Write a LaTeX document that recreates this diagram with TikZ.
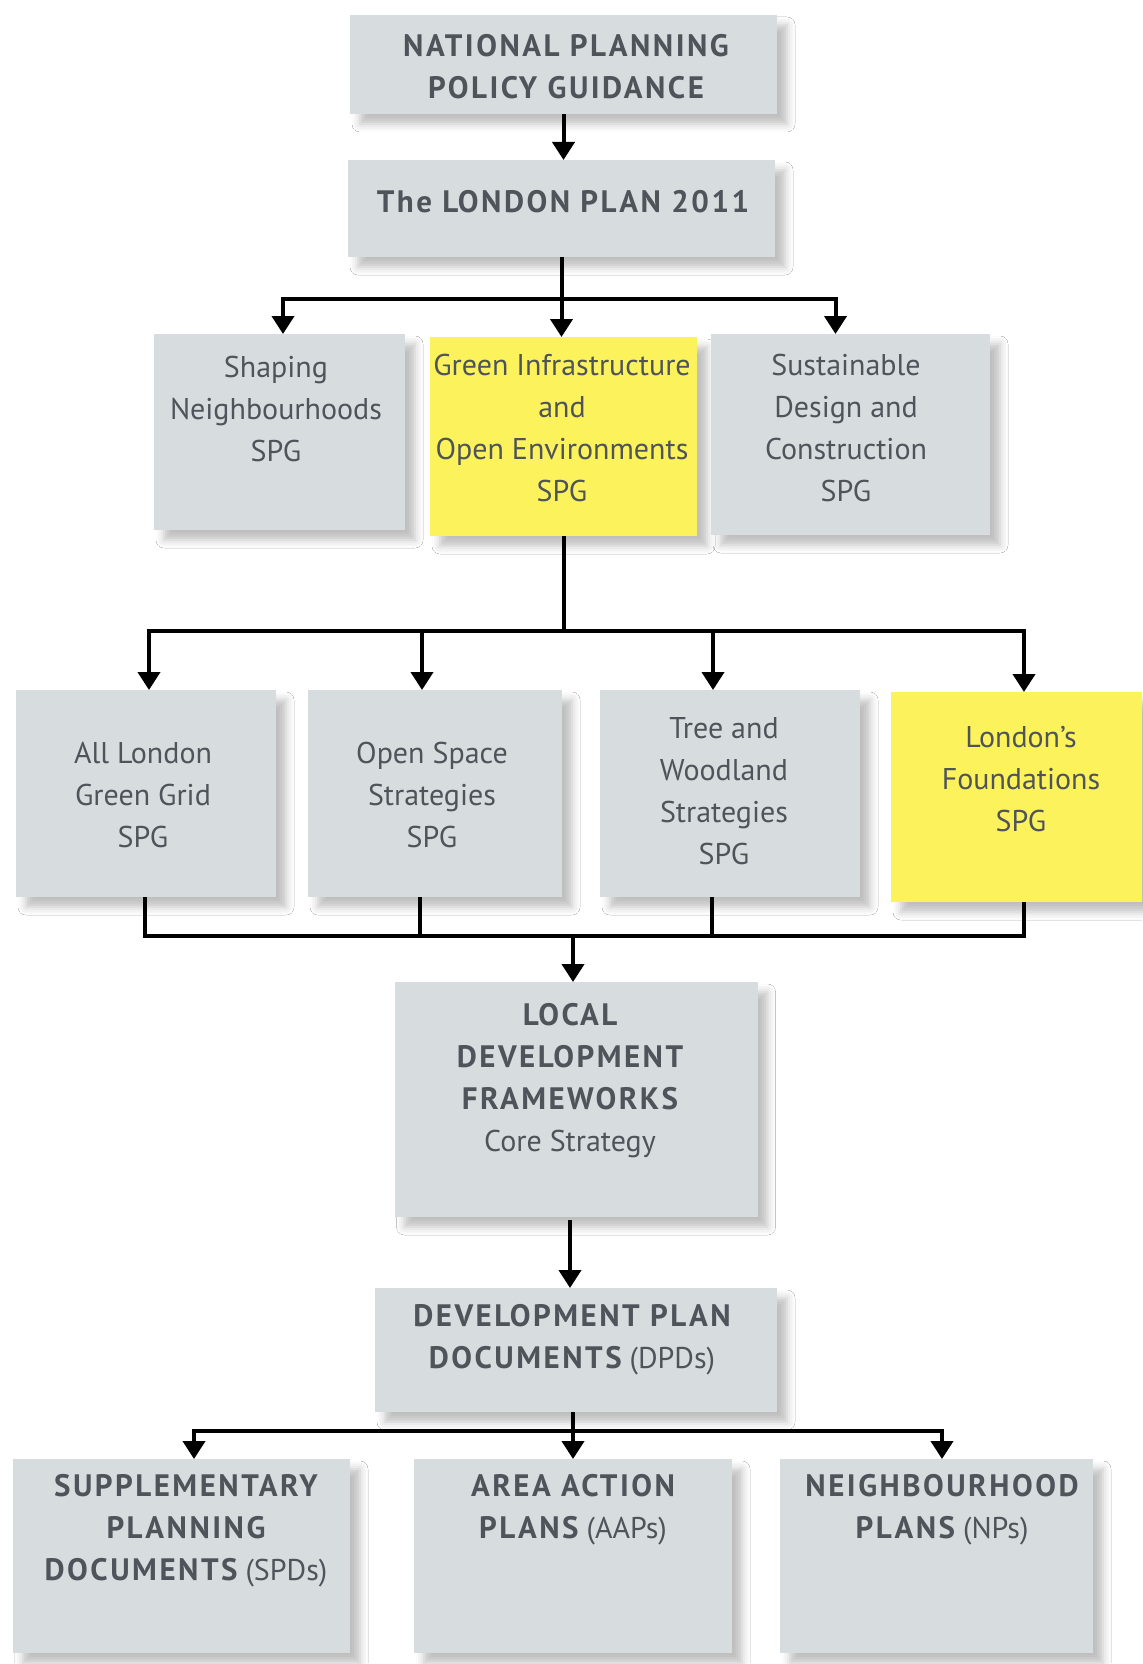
\documentclass[tikz,border=0pt]{standalone}
\usepackage{fontspec}
\setmainfont{PT Sans}
\newfontfamily\capsfont[LetterSpace=8]{PT Sans}
\newcommand{\cp}[1]{{\capsfont\fontsize{15.5pt}{21pt}\selectfont\bfseries #1}}
\usetikzlibrary{arrows.meta,shadows.blur}
\definecolor{boxgray}{RGB}{215,221,223}
\definecolor{boxyel}{RGB}{252,242,92}
\definecolor{txt}{RGB}{78,84,90}
\tikzset{
  box/.style={fill=boxgray, draw=none, inner sep=0pt, outer sep=0pt,
    blur shadow={shadow xshift=5pt, shadow yshift=-5pt, shadow blur radius=4pt, shadow opacity=25}},
  ybox/.style={box, fill=boxyel},
  lbl/.style={text=txt, align=center, inner sep=0pt, font=\fontsize{15pt}{21pt}\selectfont},
  conn/.style={line width=2pt, black},
  arr/.style={conn, -{Triangle[width=11pt,length=9pt]}},
}
\begin{document}
\begin{tikzpicture}[x=0.5pt,y=-0.5pt]
\fill[white] (0,0) rectangle (1142,1664);
\useasboundingbox (0,0) rectangle (1142,1664);

% boxes
\node[box, minimum width=213.5pt, minimum height=49.5pt] (nppg) at (563.5,64.5) {};
\node[box, minimum width=213.5pt, minimum height=48.5pt] (lp) at (561.5,208.5) {};
\node[box, minimum width=125.5pt, minimum height=98pt] (shaping) at (279.5,432) {};
\node[ybox, minimum width=133.5pt, minimum height=99.5pt] (gi) at (563.5,436.5) {};
\node[box, minimum width=139.5pt, minimum height=100.5pt] (sdc) at (850.5,434.5) {};
\node[box, minimum width=130pt, minimum height=103.5pt] (allgg) at (146,793.5) {};
\node[box, minimum width=127pt, minimum height=103.5pt] (open) at (435,793.5) {};
\node[box, minimum width=130pt, minimum height=103.5pt] (tree) at (730,793.5) {};
\node[ybox, minimum width=125.5pt, minimum height=105pt] (lf) at (1016.5,797) {};
\node[box, minimum width=181.5pt, minimum height=117.5pt] (ldf) at (576,1099.5) {};
\node[box, minimum width=201pt, minimum height=62pt] (dpd) at (576,1350) {};
\node[box, minimum width=168.5pt, minimum height=97pt] (spd) at (181.5,1556) {};
\node[box, minimum width=159pt, minimum height=97pt] (aap) at (573,1556) {};
\node[box, minimum width=156.5pt, minimum height=97pt] (np) at (936.5,1556) {};

% labels
\node[lbl] (t1) at (566,67) {\cp{NATIONAL PLANNING}\\\cp{POLICY GUIDANCE}};
\node[lbl] (t2) at (563,202) {\cp{The LONDON PLAN 2011}};
\node[lbl] (t3) at (276,409) {Shaping\\Neighbourhoods\\SPG};
\node[lbl] (t4) at (562,428) {Green Infrastructure\\and\\Open Environments\\SPG};
\node[lbl] (t5) at (846,428) {Sustainable\\Design and\\Construction\\SPG};
\node[lbl] (t6) at (143,795) {All London\\Green Grid\\SPG};
\node[lbl] (t7) at (432,795) {Open Space\\Strategies\\SPG};
\node[lbl] (t8) at (724,791) {Tree and\\Woodland\\Strategies\\SPG};
\node[lbl] (t9) at (1021,779) {London’s\\Foundations\\SPG};
\node[lbl] (t10) at (570,1081) {\cp{LOCAL}\\\cp{DEVELOPMENT}\\\cp{FRAMEWORKS}\\Core Strategy};
\node[lbl] (t11) at (572,1340) {\cp{DEVELOPMENT PLAN}\\\cp{DOCUMENTS} (DPDs)};
\node[lbl] (t12) at (186,1531) {\cp{SUPPLEMENTARY}\\\cp{PLANNING}\\\cp{DOCUMENTS} (SPDs)};
\node[lbl] (t13) at (573,1510) {\cp{AREA ACTION}\\\cp{PLANS} (AAPs)};
\node[lbl] (t14) at (942,1510) {\cp{NEIGHBOURHOOD}\\\cp{PLANS} (NPs)};

% connectors
\draw[arr] (nppg.south) -- (nppg.south |- lp.north);
\draw[conn] (lp.south) -- ++(0,42) coordinate (j1);
\draw[arr] (j1) -| ([xshift=1.75pt]shaping.north);
\draw[arr] (j1) -- (j1 |- gi.north);
\draw[arr] (j1) -| ([xshift=-7.5pt]sdc.north);

\draw[conn] (gi.south) -- ++(0,95) coordinate (j2);
\draw[arr] (j2) -| ([xshift=1.5pt]allgg.north);
\draw[arr] (j2) -| ([xshift=-6.5pt]open.north);
\draw[arr] (j2) -| ([xshift=-8.5pt]tree.north);
\draw[arr] (j2) -| ([xshift=3.75pt]lf.north);

\coordinate (j3) at (573,936);
\draw[conn] ([xshift=-0.5pt]allgg.south) |- (j3);
\draw[conn] ([xshift=-7.5pt]open.south) |- (j3);
\draw[conn] ([xshift=-9pt]tree.south) |- (j3);
\draw[conn] ([xshift=3.75pt]lf.south) |- (j3);
\draw[arr] (j3) -- (j3 |- ldf.north);

\draw[arr] ([yshift=-1.5pt,xshift=-3pt]ldf.south) -- ([xshift=-3pt]ldf.south |- dpd.north);

\draw[conn] ([xshift=-1.5pt]dpd.south) -- ++(0,19) coordinate (j4);
\draw[arr] (j4) -| ([xshift=6.25pt]spd.north);
\draw[arr] (j4) -- (j4 |- aap.north);
\draw[arr] (j4) -| ([xshift=2.75pt]np.north);
\end{tikzpicture}
\end{document}
